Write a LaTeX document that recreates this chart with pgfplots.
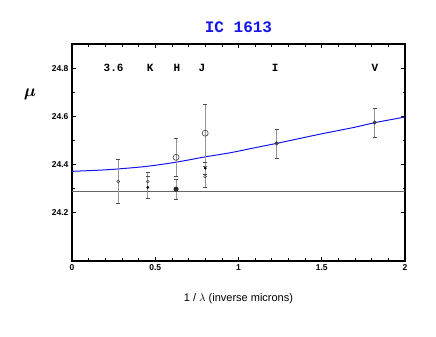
\documentclass[border=0pt]{standalone}
\usepackage{fontspec}
\setmainfont{Liberation Sans}
\newfontfamily\mono{Liberation Mono}
\usepackage{amsmath,bm}
\usepackage{pgfplots}
\pgfplotsset{compat=1.18}

\definecolor{fitblue}{RGB}{20,20,235}
\definecolor{errgray}{RGB}{150,150,150}

\begin{document}
\begin{tikzpicture}
  \begin{axis}[at={(72pt,76pt)}, anchor=south west,
      scale only axis, width=333pt, height=217pt,
      xmin=0, xmax=2, ymin=24.0, ymax=24.9,
      xtick={0,0.5,1,1.5,2}, minor x tick num=4,
      ytick={24.2,24.4,24.6,24.8}, minor y tick num=1,
      tick align=inside, major tick length=4pt, minor tick length=2.5pt,
      axis line style={line width=1.1pt},
      tick style={black, line width=0.7pt},
      xticklabels={0,0.5,1,1.5,2},
      yticklabel style={/pgf/number format/fixed, /pgf/number format/precision=1, /pgf/number format/fixed zerofill},
      /pgf/number format/assume math mode=true,
      tick label style={font=\bfseries\fontsize{8.5}{10}\selectfont},
      title={\mono\bfseries\fontsize{16}{17}\selectfont\textcolor{fitblue}{IC 1613}},
      title style={at={(0.5,1)}, anchor=south, yshift=2pt},
      xlabel={1 / $\lambda$ (inverse microns)},
      xlabel style={font=\fontsize{11}{12}\selectfont, yshift=-16pt},
      clip=false]
    % reference line
    \addplot[gray!80!black, line width=0.6pt] coordinates {(0,24.29) (2,24.29)};
    % fitted curve
    \addplot[fitblue, line width=1pt, smooth] coordinates {
      (0,24.372) (0.2,24.378) (0.4,24.389) (0.5,24.397) (0.6,24.407)
      (0.7,24.419) (0.8,24.432) (0.95,24.449) (1.1,24.470) (1.23,24.488)
      (1.4,24.513) (1.51,24.529) (1.7,24.555) (1.82,24.574) (2.0,24.597) };
    % small open circles
    \addplot[only marks, mark=o, mark size=1.5pt, black!70, mark options={line width=0.5pt},
      error bars/.cd, y dir=both, y explicit,
      error bar style={errgray, line width=0.8pt},
      error mark options={rotate=90, mark size=2pt, black!70, line width=0.5pt}]
      coordinates {
      (0.278,24.33) +- (0,0.09)
      (0.455,24.33) +- (0,0.04)
      (0.80,24.35) +- (0,0.045) };
    % small filled dots
    \addplot[only marks, mark=*, mark size=1.2pt, black,
      error bars/.cd, y dir=both, y explicit,
      error bar style={errgray, line width=0.8pt},
      error mark options={rotate=90, mark size=2pt, black!70, line width=0.5pt}]
      coordinates {
      (0.455,24.305) +- (0,0.045)
      (0.80,24.385) +- (0,0.025) };
    % large open circles
    \addplot[only marks, mark=o, mark size=3pt, black!75, mark options={line width=0.6pt},
      error bars/.cd, y dir=both, y explicit,
      error bar style={errgray, line width=0.8pt},
      error mark options={rotate=90, mark size=2pt, black!70, line width=0.5pt}]
      coordinates {
      (0.625,24.43) +- (0,0.08)
      (0.80,24.53) +- (0,0.12) };
    % large filled
    \addplot[only marks, mark=*, mark size=2.3pt, black!85,
      error bars/.cd, y dir=both, y explicit,
      error bar style={errgray, line width=0.8pt},
      error mark options={rotate=90, mark size=2pt, black!70, line width=0.5pt}]
      coordinates {
      (0.625,24.298) +- (0,0.043) };
    % optical points
    \addplot[only marks, mark=*, mark size=1.9pt, black!75,
      error bars/.cd, y dir=both, y explicit,
      error bar style={errgray, line width=1pt},
      error mark options={rotate=90, mark size=2pt, black!70, line width=0.5pt}]
      coordinates {
      (1.229,24.488) +- (0,0.06)
      (1.818,24.574) +- (0,0.06) };
    % band labels
    \begin{scope}[font=\mono\bfseries\fontsize{11}{12}\selectfont]
      \node at (axis cs:0.25,24.8) {3.6};
      \node at (axis cs:0.47,24.8) {K};
      \node at (axis cs:0.63,24.8) {H};
      \node at (axis cs:0.78,24.8) {J};
      \node at (axis cs:1.22,24.8) {I};
      \node at (axis cs:1.82,24.8) {V};
    \end{scope}
    \node at (rel axis cs:-0.126,0.77) {\fontsize{16}{18}\selectfont$\bm{\mu}$};
  \end{axis}
  \pgfresetboundingbox
  \path[use as bounding box] (0,0) rectangle (436pt,337pt);
\end{tikzpicture}
\end{document}
